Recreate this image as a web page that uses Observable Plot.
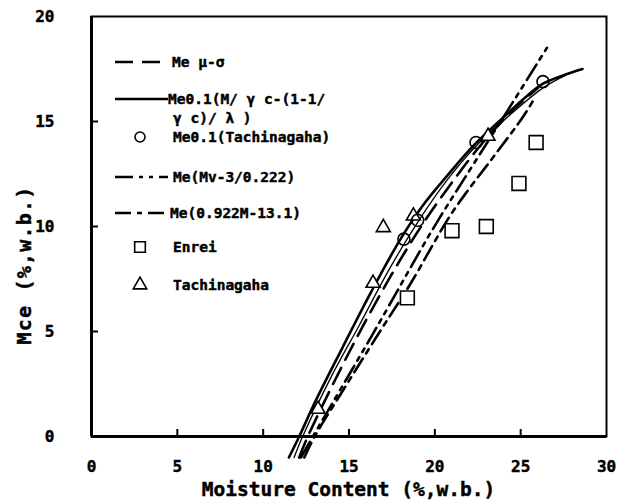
<!DOCTYPE html>
<html><head><meta charset="utf-8">
<script src="https://cdn.jsdelivr.net/npm/d3@7"></script>
<script src="https://cdn.jsdelivr.net/npm/@observablehq/plot@0.6"></script>
<style>body{margin:0;background:#fff} svg text{stroke:black;stroke-width:0.45px;}</style>
</head><body><div id="chart"></div>
<script>
// ---- data ----
const xTicks = [0, 5, 10, 15, 20, 25, 30];
const yTicks = [0, 5, 10, 15, 20];

const enreiX = [18.4, 21.0, 23.0, 24.9, 25.9];
const enreiY = [6.6, 9.8, 10.0, 12.05, 14.0];

const tachiX = [13.2, 16.4, 17.0, 18.75, 23.1];
const tachiY = [1.3, 7.3, 9.95, 10.5, 14.3];

const meanX = [18.2, 19.0, 22.4, 26.3];
const meanY = [9.4, 10.3, 14.0, 16.9];

const solidX = [11.5, 12.1, 13.0, 14.6, 16.3, 18.0, 19.3, 20.7, 22.2, 24.0, 25.2, 26.3, 27.5, 28.6];
const solidY = [-1.0, 0.0, 1.6, 4.2, 6.9, 9.4, 11.0, 12.4, 13.8, 15.2, 16.1, 16.8, 17.2, 17.5];

const thinX = [11.8, 12.3, 14.0, 15.6, 17.3, 19.0, 20.8, 22.6, 24.5, 26.3, 27.6];
const thinY = [-1.0, 0.0, 2.9, 5.3, 7.9, 10.2, 12.3, 14.0, 15.4, 16.6, 17.2];

const muX = [12.1, 12.6, 15.0, 17.4, 19.2, 21.0, 22.8, 24.5, 26.0];
const muY = [-1.0, 0.0, 4.0, 7.6, 10.0, 12.1, 14.0, 15.5, 16.6];

const mvX = [12.2, 12.9, 16.4, 19.9, 22.2, 24.3, 26.6];
const mvY = [-1.0, 0.0, 4.9, 9.9, 12.9, 15.6, 18.6];

const linX = [12.4, 13.0, 14.5, 16.8, 18.6, 20.8, 22.0, 23.4, 25.2, 25.8];
const linY = [-1.0, 0.0, 2.0, 5.0, 7.3, 10.4, 11.8, 13.3, 15.3, 16.1];

const legendLabels = [
  "Me μ-σ",
  "Me0.1(M/ γ c-(1-1/",
  "Me0.1(Tachinagaha)",
  "Me(Mv-3/0.222)",
  "Me(0.922M-13.1)",
  "Enrei",
  "Tachinagaha"
];
const legendCont = "γ c)/ λ )";
const xTitle = "Moisture Content (%,w.b.)";
const yTitle = "Mce (%,w.b.)";

// ---- build tables ----
const zip = (xs, ys) => xs.map((x, i) => ({x, y: ys[i]}));
const enrei = zip(enreiX, enreiY);
const tachi = zip(tachiX, tachiY);
const mean = zip(meanX, meanY);

const DASH_MU = "18,9";
const DASH_MV = "18,6,4,6,4,6";
const DASH_LIN = "16,6,5,6";

const W = 617, H = 501, ML = 91, MR = 11, MT = 16, MB = 65;
const PW = W - ML - MR, PH = H - MT - MB;
const FONT = "DejaVu Sans Mono";

const svg = Plot.plot({
  width: W, height: H,
  marginLeft: ML, marginRight: MR, marginTop: MT, marginBottom: MB,
  style: {fontFamily: FONT, fontWeight: "bold", fontSize: "16px", background: "white", color: "black"},
  x: {domain: [0, 30]},
  y: {domain: [0, 20]},
  marks: [
    Plot.frame({stroke: "black", strokeWidth: 2}),
    Plot.ruleX([0], {stroke: "black", strokeWidth: 3}),
    Plot.ruleY([0], {stroke: "black", strokeWidth: 3}),
    Plot.tickX(xTicks.filter(v => v > 0 && v < 30), {x: d => d, insetTop: PH - 7, strokeWidth: 2}),
    Plot.tickY(yTicks.filter(v => v > 0 && v < 20), {y: d => d, insetRight: PW - 7, strokeWidth: 2}),
    Plot.axisX({ticks: xTicks, tickSize: 0, tickPadding: 24, label: null, fontSize: 16, fontWeight: "bold"}),
    Plot.axisY({ticks: yTicks, tickSize: 0, tickPadding: 37, label: null, fontSize: 16, fontWeight: "bold"}),
    Plot.line(zip(solidX, solidY), {x: "x", y: "y", stroke: "black", strokeWidth: 2.6, curve: "catmull-rom"}),
    Plot.line(zip(thinX, thinY), {x: "x", y: "y", stroke: "black", strokeWidth: 1.3, curve: "catmull-rom"}),
    Plot.line(zip(muX, muY), {x: "x", y: "y", stroke: "black", strokeWidth: 2.6, strokeDasharray: DASH_MU, curve: "catmull-rom"}),
    Plot.line(zip(mvX, mvY), {x: "x", y: "y", stroke: "black", strokeWidth: 2.6, strokeDasharray: DASH_MV, curve: "catmull-rom"}),
    Plot.line(zip(linX, linY), {x: "x", y: "y", stroke: "black", strokeWidth: 2.6, strokeDasharray: DASH_LIN, curve: "catmull-rom"}),
    Plot.dot(enrei, {x: "x", y: "y", symbol: "square", r: 7.8, fill: "white", stroke: "black", strokeWidth: 1.6}),
    Plot.dot(tachi, {x: "x", y: "y", symbol: "triangle", r: 5.2, fill: "white", stroke: "black", strokeWidth: 1.6}),
    Plot.dot(mean, {x: "x", y: "y", symbol: "circle", r: 6, fill: "none", stroke: "black", strokeWidth: 1.6})
  ]
});

// ---- legend inside the plot area and axis titles ----
const s = d3.select(svg);
const lg = s.append("g").attr("font-family", FONT).attr("font-weight", "bold")
  .attr("font-size", 14.5).attr("fill", "black").attr("text-anchor", "start");
const rows = [
  {y: 62, kind: "line", dash: DASH_MU, x1: 115, x2: 160, tx: 172},
  {y: 99, kind: "line", dash: null, x1: 115, x2: 168, tx: 168},
  {y: 137, kind: "circle", tx: 173},
  {y: 177, kind: "line", dash: DASH_MV, x1: 115, x2: 168, tx: 173},
  {y: 213, kind: "line", dash: DASH_LIN, x1: 115, x2: 170, tx: 170},
  {y: 247, kind: "square", tx: 173},
  {y: 285, kind: "triangle", tx: 173}
];
rows.forEach((r, i) => {
  if (r.kind === "line") {
    lg.append("line").attr("x1", r.x1).attr("x2", r.x2).attr("y1", r.y).attr("y2", r.y)
      .attr("stroke", "black").attr("stroke-width", 2.6).attr("stroke-dasharray", r.dash);
  } else {
    const type = r.kind === "circle" ? d3.symbolCircle : r.kind === "square" ? d3.symbolSquare : d3.symbolTriangle;
    const rr = r.kind === "circle" ? 5 : r.kind === "square" ? 6 : 5;
    lg.append("path").attr("transform", `translate(140,${r.y})`)
      .attr("d", d3.symbol(type, Math.PI * rr * rr)())
      .attr("fill", "white").attr("stroke", "black").attr("stroke-width", 1.6);
  }
  lg.append("text").attr("x", r.tx).attr("y", r.y).attr("dy", "0.35em").text(legendLabels[i]);
});
lg.append("text").attr("x", 173).attr("y", 118).attr("dy", "0.35em").text(legendCont);

s.append("text").attr("x", (ML + W - MR) / 2).attr("y", 496)
  .attr("text-anchor", "middle").attr("font-family", FONT).attr("font-weight", "bold")
  .attr("font-size", 19.5).attr("fill", "black").text(xTitle);
s.append("text").attr("transform", "translate(31,265) rotate(-90)")
  .attr("text-anchor", "middle").attr("font-family", FONT).attr("font-weight", "bold")
  .attr("font-size", 20).attr("letter-spacing", 1.2).attr("fill", "black").text(yTitle);

document.getElementById("chart").appendChild(svg);
</script></body></html>
